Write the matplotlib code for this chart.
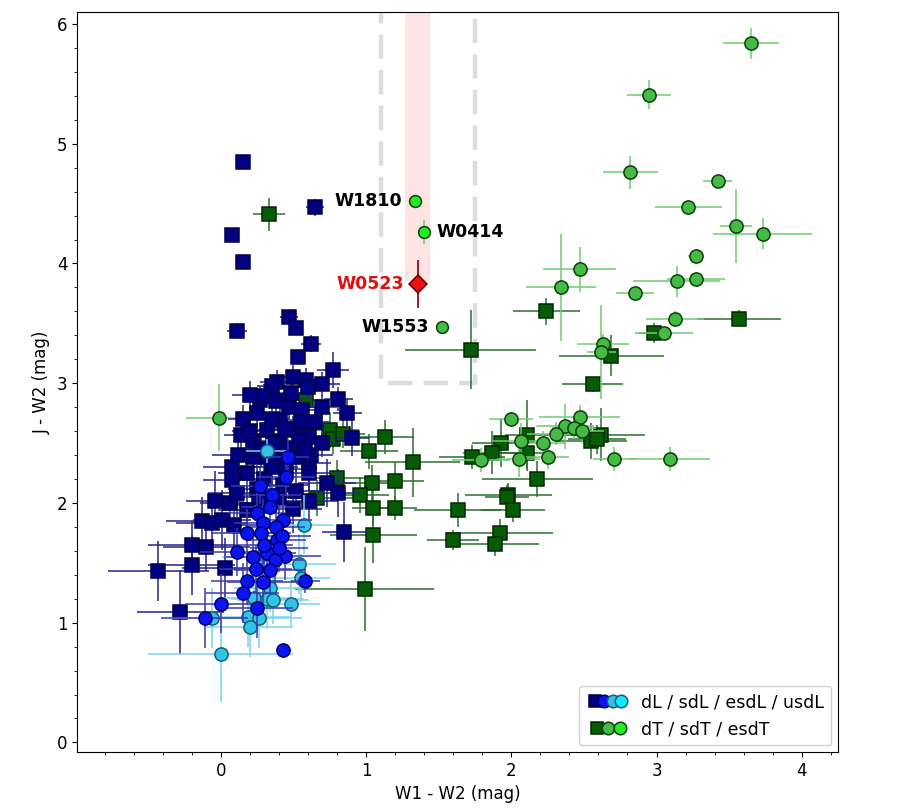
import matplotlib
matplotlib.use("Agg")
import matplotlib.pyplot as plt
from matplotlib.lines import Line2D
from matplotlib.legend_handler import HandlerTuple
from matplotlib.patches import Rectangle
from matplotlib.ticker import MultipleLocator

# ---------------- data (x = W1-W2, y = J-W2, xerr, yerr) ----------------
dL_x = [0.15, 0.65, 0.08, 0.15, 0.11, 0.47, 0.52, 0.62, 0.53, 0.77, 0.39, 0.50, 0.59, 0.60, 0.70,
        0.35, 0.27, 0.30, 0.81, 0.70, 0.87, 0.47, 0.56, 0.15, 0.14, 0.22, 0.32, 0.41, 0.50, 0.61,
        0.70, 0.90, 0.41, 0.54, 0.22, 0.32, 0.39, 0.52, 0.61, 0.08, 0.18, 0.08, 0.61, 0.73, 0.81,
        0.61, -0.04, 0.06, -0.13, -0.06, 0.01, 0.09, -0.20, -0.10, -0.43, -0.20, 0.03, -0.28, 0.85,
        0.18, 0.11, 0.25, 0.35, 0.45, 0.28, 0.35, 0.45, 0.25, 0.40, 0.50, 0.20, 0.38, 0.48, 0.55,
        0.43, 0.30, 0.52, 0.62, 0.20, 0.65, 0.12, 0.30, 0.44, 0.58, 0.26, 0.36]
dL_y = [4.85, 4.47, 4.24, 4.01, 3.44, 3.55, 3.46, 3.33, 3.22, 3.11, 3.01, 3.05, 3.03, 2.97, 2.99,
        2.98, 2.86, 2.89, 2.87, 2.80, 2.75, 2.80, 2.78, 2.70, 2.57, 2.52, 2.61, 2.69, 2.61, 2.55,
        2.50, 2.54, 2.52, 2.52, 2.38, 2.38, 2.38, 2.38, 2.33, 2.30, 2.25, 2.19, 2.25, 2.17, 2.08,
        2.02, 2.02, 2.00, 1.85, 1.83, 1.86, 1.82, 1.65, 1.63, 1.43, 1.48, 1.46, 1.09, 1.76,
        1.94, 2.08, 2.75, 2.70, 2.45, 2.45, 2.30, 2.28, 2.12, 2.05, 1.95, 2.60, 2.85, 2.92, 2.68,
        2.15, 1.98, 2.10, 2.40, 2.90, 2.68, 2.40, 2.20, 2.62, 2.45, 2.05, 2.50]
dL_xe = [0.03, 0.06, 0.04, 0.04, 0.07, 0.06, 0.04, 0.07, 0.05, 0.11, 0.12, 0.10, 0.08, 0.10, 0.12,
         0.10, 0.12, 0.10, 0.10, 0.10, 0.10, 0.10, 0.10, 0.10, 0.12, 0.12, 0.10, 0.10, 0.15, 0.12,
         0.12, 0.12, 0.10, 0.12, 0.15, 0.15, 0.12, 0.12, 0.15, 0.20, 0.20, 0.20, 0.15, 0.20, 0.15,
         0.20, 0.20, 0.20, 0.25, 0.25, 0.20, 0.20, 0.30, 0.30, 0.35, 0.30, 0.30, 0.30, 0.15,
         0.20, 0.20, 0.12, 0.12, 0.15, 0.15, 0.18, 0.15, 0.20, 0.20, 0.20, 0.12, 0.10, 0.10, 0.12,
         0.18, 0.20, 0.18, 0.15, 0.12, 0.10, 0.18, 0.20, 0.15, 0.15, 0.22, 0.15]
dL_ye = [0.03, 0.07, 0.04, 0.05, 0.06, 0.05, 0.04, 0.07, 0.05, 0.15, 0.10, 0.10, 0.10, 0.10, 0.10,
         0.08, 0.12, 0.10, 0.10, 0.10, 0.12, 0.10, 0.10, 0.12, 0.12, 0.10, 0.10, 0.10, 0.12, 0.12,
         0.12, 0.15, 0.10, 0.12, 0.12, 0.12, 0.10, 0.12, 0.15, 0.15, 0.15, 0.20, 0.15, 0.20, 0.20,
         0.20, 0.25, 0.20, 0.20, 0.20, 0.25, 0.20, 0.20, 0.20, 0.25, 0.25, 0.25, 0.35, 0.25,
         0.20, 0.20, 0.12, 0.12, 0.15, 0.15, 0.15, 0.15, 0.20, 0.20, 0.20, 0.12, 0.10, 0.10, 0.12,
         0.18, 0.20, 0.18, 0.15, 0.12, 0.10, 0.15, 0.20, 0.12, 0.15, 0.20, 0.15]

sdL_x = [0.46, 0.45, 0.27, 0.35, 0.25, 0.34, 0.43, 0.29, 0.18, 0.39, 0.11, 0.22, 0.32, 0.44, 0.37,
         0.34, 0.29, 0.18, 0.15, 0.58, 0.00, -0.11, 0.25, 0.43, 0.38, 0.42, 0.30, 0.24, 0.40, 0.28]
sdL_y = [2.38, 2.22, 2.14, 2.07, 1.92, 1.97, 1.86, 1.83, 1.75, 1.69, 1.59, 1.55, 1.58, 1.56, 1.52,
         1.44, 1.34, 1.35, 1.25, 1.35, 1.16, 1.04, 1.12, 0.77, 1.80, 1.72, 1.65, 1.45, 1.62, 1.75]
sdL_xe = [0.15, 0.20, 0.20, 0.20, 0.20, 0.20, 0.20, 0.20, 0.25, 0.20, 0.25, 0.20, 0.20, 0.25, 0.20,
          0.25, 0.25, 0.25, 0.25, 0.10, 0.25, 0.30, 0.25, 0.05, 0.20, 0.20, 0.20, 0.25, 0.20, 0.20]
sdL_ye = [0.15, 0.15, 0.15, 0.15, 0.20, 0.20, 0.20, 0.20, 0.20, 0.20, 0.20, 0.20, 0.20, 0.20, 0.20,
          0.20, 0.20, 0.20, 0.25, 0.10, 0.25, 0.25, 0.25, 0.05, 0.20, 0.20, 0.20, 0.20, 0.20, 0.20]

esdL_x = [0.32, 0.57, 0.54, 0.55, 0.23, 0.34, 0.32, 0.36, 0.48, 0.19, 0.26, 0.20, -0.06, 0.00, 0.26]
esdL_y = [2.43, 1.82, 1.49, 1.37, 1.21, 1.29, 1.20, 1.19, 1.16, 1.05, 1.04, 0.96, 1.04, 0.74, 1.55]
esdL_xe = [0.15, 0.20, 0.25, 0.20, 0.25, 0.25, 0.25, 0.25, 0.20, 0.30, 0.30, 0.30, 0.30, 0.50, 0.25]
esdL_ye = [0.10, 0.25, 0.25, 0.20, 0.20, 0.20, 0.25, 0.20, 0.20, 0.25, 0.25, 0.25, 0.25, 0.40, 0.20]

dT_x = [0.33, 1.72, 2.24, 3.57, 2.98, 2.69, 2.56, 2.62, 2.55, 2.59, 2.11, 1.93, 1.87, 2.11, 2.18,
        1.98, 1.97, 2.01, 1.73, 1.63, 1.92, 1.89, 1.60, 0.99, 1.32, 1.13, 1.02, 1.04, 1.20, 0.96,
        1.05, 1.20, 1.05, 0.80, 0.66, 0.75, 0.59, 0.77, 0.84]
dT_y = [4.41, 3.28, 3.60, 3.54, 3.42, 3.23, 2.99, 2.57, 2.52, 2.53, 2.57, 2.50, 2.42, 2.42, 2.20,
        2.07, 2.05, 1.94, 2.38, 1.94, 1.75, 1.66, 1.69, 1.28, 2.34, 2.55, 2.43, 2.17, 2.18, 2.07,
        1.96, 1.96, 1.73, 2.21, 2.04, 2.61, 2.86, 2.53, 2.58]
dT_xe = [0.11, 0.45, 0.23, 0.29, 0.10, 0.36, 0.21, 0.30, 0.25, 0.20, 0.15, 0.20, 0.20, 0.18, 0.38,
         0.30, 0.15, 0.22, 0.23, 0.30, 0.37, 0.30, 0.18, 0.48, 0.33, 0.20, 0.20, 0.20, 0.20, 0.20,
         0.15, 0.15, 0.30, 0.20, 0.25, 0.20, 0.10, 0.15, 0.15]
dT_ye = [0.14, 0.33, 0.11, 0.07, 0.08, 0.17, 0.06, 0.22, 0.15, 0.12, 0.29, 0.20, 0.18, 0.15, 0.15,
         0.10, 0.10, 0.10, 0.10, 0.14, 0.12, 0.10, 0.08, 0.35, 0.29, 0.14, 0.15, 0.15, 0.16, 0.15,
         0.15, 0.10, 0.23, 0.15, 0.15, 0.15, 0.10, 0.12, 0.12]

sdT_x = [3.65, 2.95, 2.82, 3.42, 3.22, 3.55, 3.73, 3.27, 2.47, 2.34, 3.14, 3.27, 2.85, 3.13, 3.05,
         2.63, 2.62, 2.00, 2.47, 2.37, 2.43, 2.31, 2.49, 2.71, 3.09, 2.07, 2.22, 2.25, 2.05, 1.79, -0.01]
sdT_y = [5.84, 5.41, 4.76, 4.69, 4.47, 4.31, 4.25, 4.06, 3.95, 3.80, 3.85, 3.87, 3.75, 3.54, 3.42,
         3.33, 3.26, 2.70, 2.72, 2.64, 2.63, 2.58, 2.60, 2.37, 2.37, 2.52, 2.50, 2.38, 2.37, 2.36, 2.71]
sdT_xe = [0.19, 0.15, 0.19, 0.10, 0.23, 0.11, 0.34, 0.05, 0.25, 0.24, 0.30, 0.20, 0.13, 0.20, 0.20,
          0.18, 0.10, 0.15, 0.28, 0.20, 0.15, 0.20, 0.15, 0.15, 0.28, 0.20, 0.15, 0.15, 0.15, 0.20, 0.23]
sdT_ye = [0.13, 0.12, 0.14, 0.05, 0.05, 0.31, 0.13, 0.05, 0.19, 0.45, 0.13, 0.05, 0.05, 0.06, 0.05,
          0.08, 0.39, 0.06, 0.10, 0.19, 0.10, 0.10, 0.10, 0.10, 0.10, 0.15, 0.10, 0.10, 0.15, 0.10, 0.28]

# labelled objects
lab_names = ["W1810", "W0414", "W1553"]
lab_x = [1.336, 1.40, 1.52]
lab_y = [4.52, 4.26, 3.47]
lab_ye = [0.02, 0.10, 0.02]
lab_cls = ["esdT", "esdT", "sdT"]

w0523_x, w0523_y, w0523_xe, w0523_ye = 1.357, 3.83, 0.06, 0.20

# ---------------- figure ----------------
fig = plt.figure(figsize=(9.02, 8.08), dpi=100)
ax = fig.add_axes([0.0854, 0.0693, 0.8437, 0.9158])

# selection box and W0523 band
box_x0, box_x1, box_y0, box_y1 = 1.10, 1.75, 3.0, 6.3
band_x0, band_x1, band_y0 = 1.27, 1.44, 3.85
ax.add_patch(Rectangle((band_x0, band_y0), band_x1 - band_x0, box_y1 - band_y0,
                       facecolor="#fde3e3", edgecolor="none", zorder=0))
dash = (0, (5.5, 2.5))
ax.plot([box_x0, box_x0, box_x1, box_x1], [box_y1, box_y0, box_y0, box_y1],
        color="#dcdcdc", lw=3.2, linestyle=dash, zorder=0.5, solid_capstyle="butt")

def eb(x, y, xe, ye, marker, fc, ec, ecol, ms, z):
    ax.errorbar(x, y, xerr=xe, yerr=ye, fmt="none", ecolor=ecol, elinewidth=1.1,
                capsize=0, zorder=z)
    ax.plot(x, y, linestyle="none", marker=marker, markerfacecolor=fc,
            markeredgecolor=ec, markeredgewidth=1.1, markersize=ms, zorder=z + 0.1)

c_dL, c_sdL, c_esdL, c_usdL = "#000080", "#0a14ee", "#33c3e8", "#14e6ff"
c_dT, c_sdT, c_esdT = "#065c06", "#44bb44", "#22ee22"

eb(dT_x, dT_y, dT_xe, dT_ye, "s", c_dT, "#002800", "#2e6e2e", 10, 2)
eb(sdT_x, sdT_y, sdT_xe, sdT_ye, "o", c_sdT, "#0b3f0b", "#70cc70", 9.5, 2.2)
eb(dL_x, dL_y, dL_xe, dL_ye, "s", c_dL, "#00004a", "#24248a", 10, 3)
eb(esdL_x, esdL_y, esdL_xe, esdL_ye, "o", c_esdL, "#16606e", "#7cd2ee", 9.5, 3.3)
eb(sdL_x, sdL_y, sdL_xe, sdL_ye, "o", c_sdL, "#000070", "#3a3ab0", 9.5, 3.6)

for n, x, y, ye, c in zip(lab_names, lab_x, lab_y, lab_ye, lab_cls):
    fc = c_esdT if c == "esdT" else c_sdT
    ax.errorbar([x], [y], yerr=[ye], fmt="none", ecolor="#70cc70", elinewidth=1.1, zorder=4)
    ax.plot([x], [y], "o", markerfacecolor=fc, markeredgecolor="#0b3f0b",
            markeredgewidth=1.1, markersize=8.5, zorder=4.1)
ax.errorbar([w0523_x], [w0523_y], xerr=[w0523_xe], yerr=[w0523_ye], fmt="none",
            ecolor="#8b1010", elinewidth=1.3, zorder=5)
ax.plot([w0523_x], [w0523_y], "D", markerfacecolor="#ee1111", markeredgecolor="#6a0000",
        markeredgewidth=1.1, markersize=9.5, zorder=5.1)

tkw = dict(fontsize=12.5, fontweight="bold", va="center", textcoords="offset points")
ax.annotate("W1810", (lab_x[0], lab_y[0]), xytext=(-9, 0), ha="right", **tkw)
ax.annotate("W0414", (lab_x[1], lab_y[1]), xytext=(9, 0), ha="left", **tkw)
ax.annotate("W1553", (lab_x[2], lab_y[2]), xytext=(-9, 0), ha="right", **tkw)
ax.annotate("W0523", (w0523_x, w0523_y), xytext=(-10, 0), ha="right", color="#dd1111", **tkw)

ax.set_xlim(-0.99, 4.25)
ax.set_ylim(-0.08, 6.1)
ax.xaxis.set_major_locator(MultipleLocator(1))
ax.xaxis.set_minor_locator(MultipleLocator(0.2))
ax.yaxis.set_major_locator(MultipleLocator(1))
ax.yaxis.set_minor_locator(MultipleLocator(0.2))
ax.tick_params(labelsize=12)
ax.set_xlabel("W1 - W2 (mag)", fontsize=12)
ax.set_ylabel("J - W2 (mag)", fontsize=12)

def mk(marker, fc, ec):
    return Line2D([], [], linestyle="none", marker=marker, markerfacecolor=fc,
                  markeredgecolor=ec, markeredgewidth=1.1, markersize=9)

hL = (mk("s", c_dL, "#00004a"), mk("o", c_sdL, "#000070"), mk("o", c_esdL, "#16606e"),
      mk("o", c_usdL, "#16606e"))
hT = (mk("s", c_dT, "#002800"), mk("o", c_sdT, "#0b3f0b"), mk("o", c_esdT, "#0b3f0b"))
ax.legend([hL, hT], ["dL / sdL / esdL / usdL", "dT / sdT / esdT"],
          handler_map={tuple: HandlerTuple(ndivide=None, pad=-0.6)},
          handlelength=2.6, handletextpad=0.6, loc="lower right", fontsize=12.5,
          framealpha=0.9, borderaxespad=0.4)

fig.savefig("out.png", dpi=100)
